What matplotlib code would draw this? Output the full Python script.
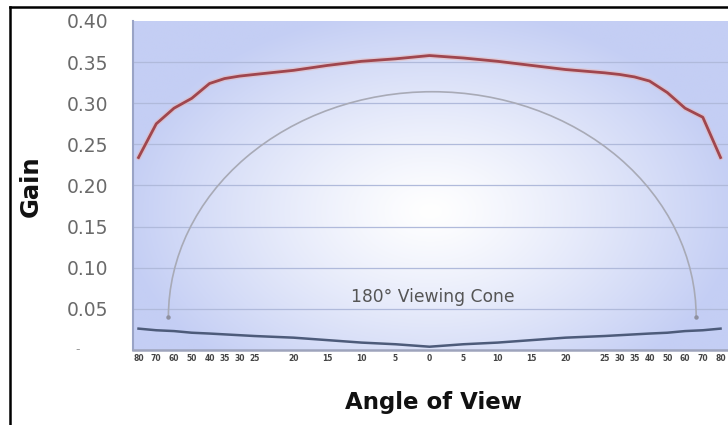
import numpy as np
import matplotlib
matplotlib.use("Agg")
import matplotlib.pyplot as plt
from matplotlib.patches import Arc
from matplotlib.lines import Line2D
import matplotlib.transforms as mtransforms

# data
view_angle = [-80, -70, -60, -50, -40, -35, -30, -25, -20, -15, -10, -5, 0,
              5, 10, 15, 20, 25, 30, 35, 40, 50, 60, 70, 80]
angle_labels = ["80", "70", "60", "50", "40", "35", "30", "25", "20", "15", "10", "5", "0",
                "5", "10", "15", "20", "25", "30", "35", "40", "50", "60", "70", "80"]
gain = [0.234, 0.275, 0.294, 0.306, 0.324, 0.330, 0.333, 0.335, 0.340, 0.346, 0.351, 0.354, 0.358,
        0.355, 0.351, 0.346, 0.341, 0.337, 0.335, 0.332, 0.327, 0.313, 0.294, 0.283, 0.234]
floor_gain = [0.026, 0.024, 0.023, 0.021, 0.020, 0.019, 0.018, 0.017, 0.015, 0.012, 0.009, 0.007, 0.004,
              0.007, 0.009, 0.012, 0.015, 0.017, 0.018, 0.019, 0.020, 0.021, 0.023, 0.024, 0.026]
y_ticks = [0.05, 0.10, 0.15, 0.20, 0.25, 0.30, 0.35, 0.40]
cone_label = "180° Viewing Cone"

# uneven angle axis: wide spacing near the centre, compressed towards the edges
bp_angle = [0, 20, 25, 40, 80, 90]
bp_pos = [0, 136, 175, 220, 291, 308.75]

def fwd(x):
    x = np.asarray(x, dtype=float)
    return np.sign(x) * np.interp(np.abs(x), bp_angle, bp_pos)

def inv(p):
    p = np.asarray(p, dtype=float)
    return np.sign(p) * np.interp(np.abs(p), bp_pos, bp_angle)

fig = plt.figure(figsize=(7.28, 4.25), dpi=100)
ax = fig.add_axes([133 / 728, 75 / 425, 595 / 728, 329 / 425])
ax.set_xscale("function", functions=(fwd, inv))
ax.set_xlim(-83.1, 84.2)
ax.set_ylim(0, 0.40)

# soft blue background with a white glow in the middle
yy, xx = np.mgrid[0:1:200j, 0:1:300j]
r = np.sqrt(((xx - 0.5) / 0.52) ** 2 + ((yy - 0.42) / 0.62) ** 2)
t = np.clip(r, 0, 1) ** 1.2
edge = np.array([196, 206, 244]) / 255.0
img = (1 - t)[..., None] * np.array([1.0, 1.0, 1.0]) + t[..., None] * edge
ax.imshow(img, extent=[0, 1, 0, 1], transform=ax.transAxes, origin="lower",
          aspect="auto", zorder=0, interpolation="bilinear")

for yv in y_ticks[:-1]:
    ax.axhline(yv, color="#b0badb", lw=0.9, zorder=1)

# viewing cone arc
blend = mtransforms.blended_transform_factory(ax.transAxes, ax.transData)
cone = Arc((0.503, 0.040), 0.887, 0.548, theta1=0, theta2=180, transform=blend,
           color="#a8aab6", lw=1.2, zorder=2)
ax.add_patch(cone)
ax.plot([0.503 - 0.4435, 0.503 + 0.4435], [0.040, 0.040], "o", ms=2.2,
        color="#8e90a0", transform=blend, zorder=2)
ax.text(0.503, 0.064, cone_label, transform=blend, ha="center", va="center",
        fontsize=12.3, color="#555555", zorder=3)

ax.plot(view_angle, gain, color="#e6b8b8", lw=4.0, alpha=0.55, zorder=3,
        solid_capstyle="round")
ax.plot(view_angle, gain, color="#a0464e", lw=2.0, zorder=4)
ax.plot(view_angle, floor_gain, color="#4d5b7a", lw=1.8, zorder=4)

for s in ["top", "right"]:
    ax.spines[s].set_visible(False)
ax.spines["left"].set_color("#9aa4c6")
ax.spines["left"].set_linewidth(1.5)
ax.spines["bottom"].set_color("#9ea4bc")
ax.spines["bottom"].set_linewidth(1.8)

ax.set_yticks(y_ticks)
ax.set_yticklabels(["%.2f" % v for v in y_ticks])
ax.tick_params(axis="y", length=0, pad=18, labelsize=13.5, labelcolor="#6a6a6a")
ax.text(-55 / 595, 0.0, "-", transform=blend, ha="center",
        va="center", fontsize=9, color="#999999")

ax.set_xticks(view_angle)
ax.set_xticklabels(angle_labels)
ax.tick_params(axis="x", length=0, pad=3, labelsize=5.5, labelcolor="#444444")
for lbl in ax.get_xticklabels():
    lbl.set_fontweight("bold")

fig.text(31 / 728, 1 - 186 / 425, "Gain", rotation=90, ha="center", va="center",
         fontsize=17.5, fontweight="bold", color="#111111")
fig.text(433 / 728, 1 - 403 / 425, "Angle of View", ha="center", va="center",
         fontsize=16.5, fontweight="bold", color="#111111")

# outer frame of the screenshot
fig.add_artist(Line2D([10 / 728, 1.0], [1 - 7 / 425, 1 - 7 / 425], color="black",
                      lw=1.8, transform=fig.transFigure))
fig.add_artist(Line2D([10 / 728, 10 / 728], [0.0, 1 - 7 / 425], color="black",
                      lw=1.8, transform=fig.transFigure))

fig.savefig("out.png", dpi=100)
